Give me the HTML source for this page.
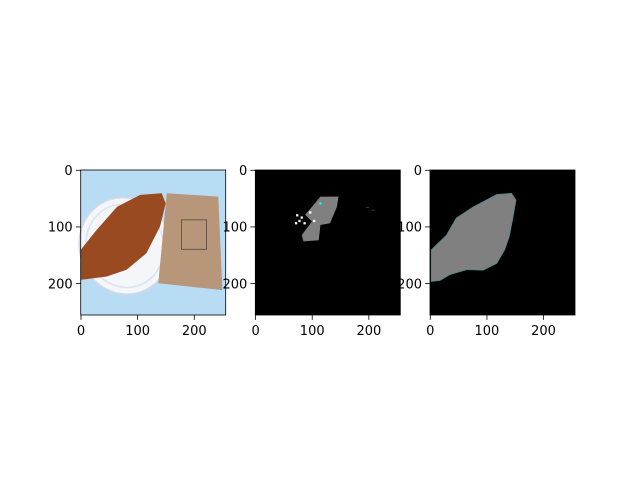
<!DOCTYPE html>
<html><head><meta charset="utf-8"><style>
html,body{margin:0;padding:0;background:#fff;}
svg text{font-family:"DejaVu Sans","Liberation Sans",sans-serif;font-size:13px;fill:#000;}
</style></head><body>
<svg id="fig" width="640" height="480" viewBox="0 0 640 480" xmlns="http://www.w3.org/2000/svg">
<rect width="640" height="480" fill="#fff"/>
</svg>
<script>
const panelLefts = [80.7, 255.3, 430];
const axisTicks = [0, 100, 200];
const tickLabels = ["0", "100", "200"];
const imgSize = 256;
// Panel 1 (photo) shapes in data (pixel) coordinates
const bagPoly = [[152,41],[243,47],[250,212],[137,200]];
const croissantPoly = [[0,141],[28,106],[64,65],[105,44],[143,41],[150,59],[140,100],[116,147],[81,176],[46,188],[0,194]];
// Panel 2 mask blob
const blobPoly = [[115,47],[147,47],[144,65],[132,94],[115,97],[112,124],[85,126],[82,115],[91,103],[100,91],[88,79],[100,65]];
const whiteDots = [[72,78],[80,82],[76,88],[95,73],[102,88],[70,92],[85,92]];
const smallSpeck = [[195,65],[205,70]];
// Panel 3 mask polygon
const maskPoly = [[2,141],[29,115],[46,85],[76,65],[118,43],[144,41],[152,53],[147,82],[140,118],[132,141],[118,165],[94,177],[65,176],[35,185],[18,195],[2,197]];

const topY = 170, size = 145, scale = size/imgSize;
const svg = document.getElementById('fig');
const NS = "http://www.w3.org/2000/svg";
function mk(tag, attrs, parent){const e=document.createElementNS(NS,tag);for(const k in attrs)e.setAttribute(k,attrs[k]);(parent||svg).appendChild(e);return e;}
function pts(p){return p.map(q=>q.join(',')).join(' ');}

panelLefts.forEach((left, i) => {
  const g = mk('g', {transform:`translate(${left},${topY}) scale(${scale})`});
  
  
  if (i === 0) {
    mk('rect',{x:0,y:0,width:256,height:256,fill:'#b8dcf3'},g);
    const pl = mk('ellipse',{cx:78,cy:134,rx:80,ry:86,fill:'#f4f6fa',stroke:'#d0dae6','stroke-width':3,transform:'rotate(-20 78 134)'},g);
    
    
    mk('ellipse',{cx:78,cy:134,rx:68,ry:74,fill:'none',stroke:'#dde4ee','stroke-width':3,transform:'rotate(-20 78 134)'},g);
    const bag = mk('polygon',{points:pts(bagPoly),fill:'#b8967a'},g);
    
    
    mk('rect',{x:178,y:88,width:44,height:52,fill:'none',stroke:'#5a4a40','stroke-width':1.5},g);
    const cr = mk('polygon',{points:pts(croissantPoly),fill:'#9a4a20'},g);
    
    
  } else if (i === 1) {
    mk('rect',{x:0,y:0,width:256,height:256,fill:'#000'},g);
    const b = mk('polygon',{points:pts(blobPoly),fill:'#808080'},g);
    
    
    whiteDots.forEach(d=>mk('rect',{x:d[0],y:d[1],width:4,height:4,fill:'#fff'},g));
    smallSpeck.forEach(d=>mk('rect',{x:d[0],y:d[1],width:6,height:2,fill:'#333'},g));
    mk('rect',{x:113,y:57,width:4,height:4,fill:'#0ff'},g);
  } else {
    mk('rect',{x:0,y:0,width:256,height:256,fill:'#000'},g);
    const m = mk('polygon',{points:pts(maskPoly),fill:'#808080',stroke:'#3a8a8a','stroke-width':1},g);
    
    
  }
  const frame = mk('rect',{x:left,y:topY,width:size,height:size,fill:'none',stroke:'#000','stroke-width':0.8});
  
  
  axisTicks.forEach((t, j) => {
    const px = left + (t+0.5)*scale;
    mk('line',{x1:px,y1:topY+size,x2:px,y2:topY+size+4.9,stroke:'#000','stroke-width':0.8});
    const xt = mk('text',{x:px,y:335,'text-anchor':'middle'});
    xt.textContent = tickLabels[j];
    
    
    const py = topY + (t+0.5)*scale;
    mk('line',{x1:left,y1:py,x2:left-4.9,y2:py,stroke:'#000','stroke-width':0.8});
    const yt = mk('text',{x:left-8,y:py+4.8,'text-anchor':'end'});
    yt.textContent = tickLabels[j];
    
    
  });
});
</script>
</body></html>
